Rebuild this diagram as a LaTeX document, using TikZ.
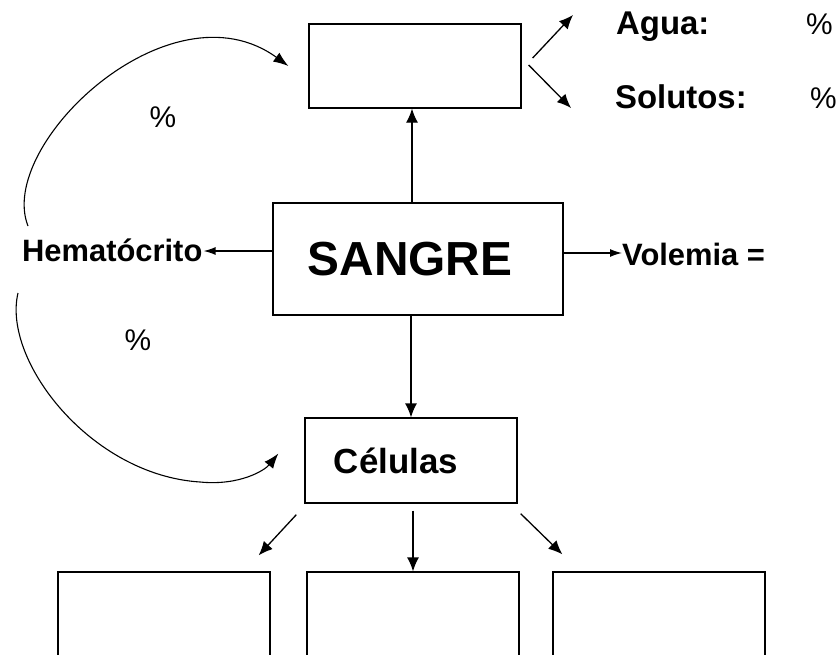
\documentclass[tikz,border=0pt]{standalone}
\usepackage{fontspec}
\setmainfont{Liberation Sans}
\usetikzlibrary{arrows.meta,calc}
\begin{document}
\begin{tikzpicture}[x=1bp,y=-1bp,
  box/.style={draw, line width=1.3bp, inner sep=0pt},
  arr/.style={-{Latex[length=14bp,width=12bp]}, line width=1.3bp},
  smallarr/.style={-{Latex[length=12bp,width=8bp]}, line width=1.3bp},
  curv/.style={-{Latex[length=15bp,width=11bp]}, line width=1.1bp},
  lbl/.style={inner sep=0pt, font=\fontsize{31}{31}\selectfont\bfseries},
  lblb/.style={inner sep=0pt, font=\fontsize{33}{33}\selectfont\bfseries},
  pct/.style={inner sep=0pt, font=\fontsize{30}{30}\selectfont}]
\useasboundingbox (0,0) rectangle (839,655);
\clip (0,0) rectangle (839,655);
\fill[white] (0,0) rectangle (839,655);

% boxes
\node[box, minimum width=212bp, minimum height=84bp] (top) at (415,66) {};
\node[box, minimum width=290bp, minimum height=112bp,
      font=\fontsize{48}{48}\selectfont\bfseries] (sangre) at (418,259) {SANGRE\hspace*{16bp}};
\node[box, minimum width=212bp, minimum height=85bp,
      font=\fontsize{35}{35}\selectfont\bfseries] (cel) at (411,460.5) {C\'elulas\hspace*{30bp}};
\node[box, minimum width=212bp, minimum height=140bp] (b1) at (164,642) {};
\node[box, minimum width=212bp, minimum height=140bp] (b2) at (413,642) {};
\node[box, minimum width=212bp, minimum height=140bp] (b3) at (659,642) {};

% labels
\node[lblb, anchor=base west] (agua) at (616,35) {Agua:};
\node[pct, anchor=base west] (pa) at (806,35) {\%};
\node[lblb, anchor=base west] (sol) at (615,109) {Solutos:};
\node[pct, anchor=base west] (ps) at (810,109) {\%};
\node[lbl, anchor=base west] (hema) at (22,261) {Hemat\'ocrito};
\node[lbl, anchor=base west] (vol) at (622,265) {Volemia =};
\node[pct] (p1) at (163,117) {\%};
\node[pct] (p2) at (138,340) {\%};

% free ends
\coordinate (aguatip) at (573,15);
\coordinate (soltip) at (571,108);
\coordinate (arcAstart) at (28,226);
\coordinate (arcBstart) at (18,293);

% connectors
\draw[arr] (sangre.north -| 412,0) -- (top.south -| 412,0);
\draw[arr] ([shift={(11bp,8bp)}]top.east) -- (aguatip);
\draw[arr] ([shift={(7bp,1bp)}]top.east) -- (soltip);
\draw[smallarr] (sangre.west |- 0,251) -- ([xshift=1bp]hema.east |- 0,251);
\draw[smallarr] (sangre.east |- 0,253) -- (vol.west |- 0,253);
\draw[arr] (sangre.south -| cel.north) -- (cel.north);
\draw[arr] ([shift={(-8bp,-11bp)}]cel.south west) -- ([shift={(-12bp,16bp)}]b1.north east);
\draw[arr] ([yshift=-7bp]cel.south -| b2.north) -- (b2.north);
\draw[arr] ([shift={(3bp,-10bp)}]cel.south east) -- ([shift={(10bp,17bp)}]b3.north west);

% curved arrows
\draw[curv] (arcAstart) .. controls (-4,145) and (170,-20) .. ([xshift=-20bp]top.west);
\draw[curv] (arcBstart) .. controls (2,360) and (90,475) .. (200,482)
            .. controls (240,486) and (265,470) .. ([shift={(-26bp,7bp)}]cel.west);
\end{tikzpicture}
\end{document}
